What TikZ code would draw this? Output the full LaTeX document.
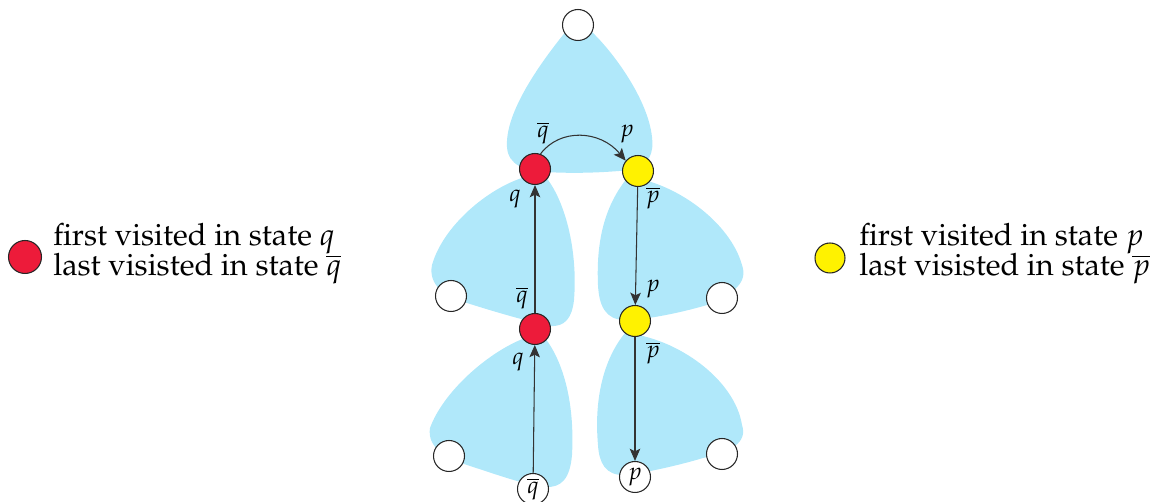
\documentclass[tikz,border=0pt]{standalone}
\usepackage[T1]{fontenc}
\usepackage{mathpazo}
\usetikzlibrary{arrows.meta}
\definecolor{blob}{RGB}{176,232,250}
\definecolor{redn}{RGB}{237,27,58}
\definecolor{yelln}{RGB}{255,242,0}
\begin{document}
\begin{tikzpicture}[x=0.02cm,y=-0.02cm,
  st/.style={circle,draw=black!85,line width=0.6pt,minimum size=0.62cm,inner sep=0pt,font=\fontsize{13.5}{15}\selectfont},
  arr/.style={-{Stealth[length=7pt,width=6pt,inset=1.5pt]},line width=0.6pt,black!80},
  lab/.style={inner sep=0pt,font=\fontsize{13.5}{15}\selectfont},
  legend/.style={anchor=base west,inner sep=0pt,font=\fontsize{17.5}{18}\selectfont}
]
\useasboundingbox (0,0) rectangle (1157,502);
% blobs
\fill[blob] (563,35) .. controls (535,70) and (505,115) .. (507,147)
  .. controls (508,165) and (525,171) .. (545,172)
  .. controls (580,174) and (610,172) .. (630,170)
  .. controls (650,166) and (654,152) .. (652,137)
  .. controls (648,100) and (615,55) .. (595,35)
  .. controls (588,25) and (570,25) .. (563,35) -- cycle;
\fill[blob] (525,177) .. controls (488,188) and (443,226) .. (432,265)
  .. controls (428,285) and (445,297) .. (467,303)
  .. controls (495,312) and (530,322) .. (550,326)
  .. controls (565,327) and (572,318) .. (574,300)
  .. controls (578,250) and (565,200) .. (545,176) -- cycle;
\fill[blob] (628,177) .. controls (675,182) and (730,222) .. (742,265)
  .. controls (748,282) and (735,293) .. (707,305)
  .. controls (680,313) and (645,320) .. (625,320)
  .. controls (605,320) and (599,305) .. (598,285)
  .. controls (596,240) and (605,205) .. (628,177) -- cycle;
\fill[blob] (525,338) .. controls (488,352) and (443,392) .. (430,428)
  .. controls (427,447) and (445,458) .. (467,465)
  .. controls (495,474) and (525,485) .. (545,487)
  .. controls (562,488) and (570,478) .. (572,455)
  .. controls (575,400) and (562,360) .. (545,338) -- cycle;
\fill[blob] (625,333) .. controls (678,338) and (735,380) .. (742,425)
  .. controls (748,443) and (730,452) .. (703,458)
  .. controls (680,465) and (645,473) .. (625,475)
  .. controls (605,476) and (599,462) .. (598,445)
  .. controls (594,400) and (603,360) .. (625,333) -- cycle;
% nodes
\node[st,fill=white] (top) at (578,25) {};
\node[st,fill=redn] (rt) at (535,169) {};
\node[st,fill=yelln] (yt) at (638,171) {};
\node[st,fill=redn] (rb) at (535,329) {};
\node[st,fill=yelln] (yb) at (635,321) {};
\node[st,fill=white] (wl1) at (451,296) {};
\node[st,fill=white] (wr1) at (722,298) {};
\node[st,fill=white] (wl2) at (449,456) {};
\node[st,fill=white] (wr2) at (722,454) {};
\node[st,fill=white] (qn) at (533,489) {$\overline{q}$};
\node[st,fill=white] (pn) at (635,477) {$p$};
% arrows
\draw[arr] (rt.70) .. controls (560,128) and (600,130) .. (yt.140);
\draw[arr] (rb) -- (rt);
\draw[arr] (qn) -- (rb);
\draw[arr] (yt) -- (yb);
\draw[arr] (yb) -- (pn);
% labels
\node[lab] (l1) at (543,133) {$\overline{q}$};
\node[lab] (l2) at (627,134) {$p$};
\node[lab] (l3) at (515,199) {$q$};
\node[lab] (l4) at (653,198) {$\overline{p}$};
\node[lab] (l5) at (522,298) {$\overline{q}$};
\node[lab] (l6) at (653,289) {$p$};
\node[lab] (l7) at (518,362) {$q$};
\node[lab] (l8) at (653,353) {$\overline{p}$};
% legend
\node[st,fill=redn,minimum size=0.66cm] (lr) at (25,257) {};
\node[legend] (lt1a) at (53,246) {first visited in state $q$};
\node[legend] (lt1b) at (53,276) {last visisted in state $\overline{q}$};
\node[st,fill=yelln,minimum size=0.6cm] (ly) at (830,258) {};
\node[legend] (lt2a) at (859,246) {first visited in state $p$};
\node[legend] (lt2b) at (859,276) {last visisted in state $\overline{p}$};
\end{tikzpicture}
\end{document}
